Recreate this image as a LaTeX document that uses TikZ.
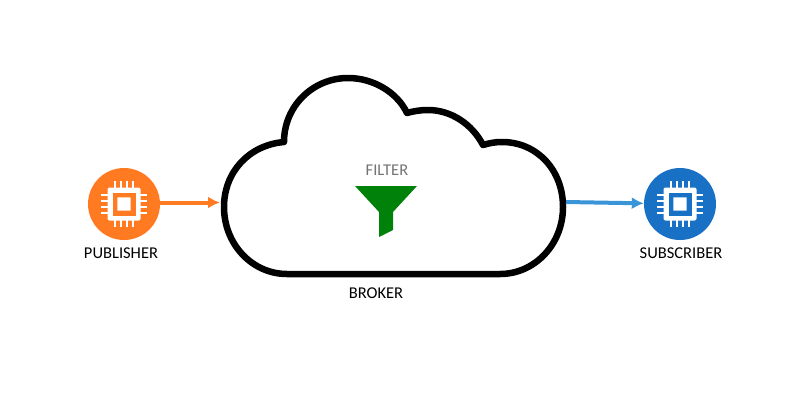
\documentclass[tikz,border=0pt]{standalone}
\usepackage{fontspec}
\setmainfont{Carlito}
\usetikzlibrary{arrows.meta}
\definecolor{puborange}{RGB}{255,122,33}
\definecolor{subblue}{RGB}{24,113,196}
\definecolor{linkblue}{RGB}{57,149,216}
\definecolor{filtergreen}{RGB}{0,130,10}
\tikzset{
  caption/.style={font=\fontsize{16.5}{18}\selectfont, text=black, inner sep=0pt},
  device/.style={circle, minimum size=72pt, inner sep=0pt},
  link/.style={line width=4pt, -{Latex[length=12pt,width=12pt]}},
  chip/.pic={
    \fill[white, rounded corners=2pt] (-16.5,-16.5) rectangle (16.5,16.5);
    \fill[#1] (-11.5,-11.5) rectangle (11.5,11.5);
    \fill[white, rounded corners=0.5pt] (-6.7,-6.7) rectangle (6.7,6.7);
    \foreach \p in {-9,-3,3,9} {
      \draw[white, line width=2.4pt] (\p,-23) -- (\p,-16);
      \draw[white, line width=2.4pt] (\p,16) -- (\p,23);
      \draw[white, line width=2.4pt] (-23,\p) -- (-16,\p);
      \draw[white, line width=2.4pt] (16,\p) -- (23,\p);
    }
  }
}
\begin{document}
\begin{tikzpicture}[x=1pt, y=-1pt]
  \useasboundingbox (0,0) rectangle (800,400);

  % broker
  \draw[line width=6.5pt, line join=round] (287,274)
    .. controls (252,274) and (224,244) .. (224,207)
    .. controls (224,172) and (249,145) .. (284,142)
    .. controls (284,106) and (313,78) .. (348,78)
    .. controls (373,78) and (397,92) .. (407,113)
    .. controls (414,111) and (421,110) .. (428,110)
    .. controls (451,110) and (472,124) .. (483,145)
    .. controls (490,143) and (495,142) .. (502,142)
    .. controls (537,142) and (563,170) .. (563,207)
    .. controls (563,244) and (535,274) .. (500,274)
    -- cycle;
  \node[caption] (broker) at (376,293) {BROKER};

  % filter
  \node[caption, text=black!55] (filter) at (387,170) {FILTER};
  \fill[filtergreen, rounded corners=0.5pt] (355,186) -- (417,186) -- (393,212) -- (393,230) -- (379,237) -- (379,212) -- cycle;

  % devices
  \node[device, fill=puborange] (pub) at (124,204) {};
  \node[device, fill=subblue] (sub) at (680,204) {};
  \pic at (pub) {chip=puborange};
  \pic at (sub) {chip=subblue};
  \node[caption] (publabel) at (121,253) {PUBLISHER};
  \node[caption] (sublabel) at (681,253) {SUBSCRIBER};

  % messages
  \coordinate (pubend) at (220,202.5);
  \coordinate (substart) at (566,202);
  \draw[link, draw=puborange] (pub.east |- pubend) -- (pubend);
  \draw[link, draw=linkblue] (substart) -- (sub);
\end{tikzpicture}
\end{document}
